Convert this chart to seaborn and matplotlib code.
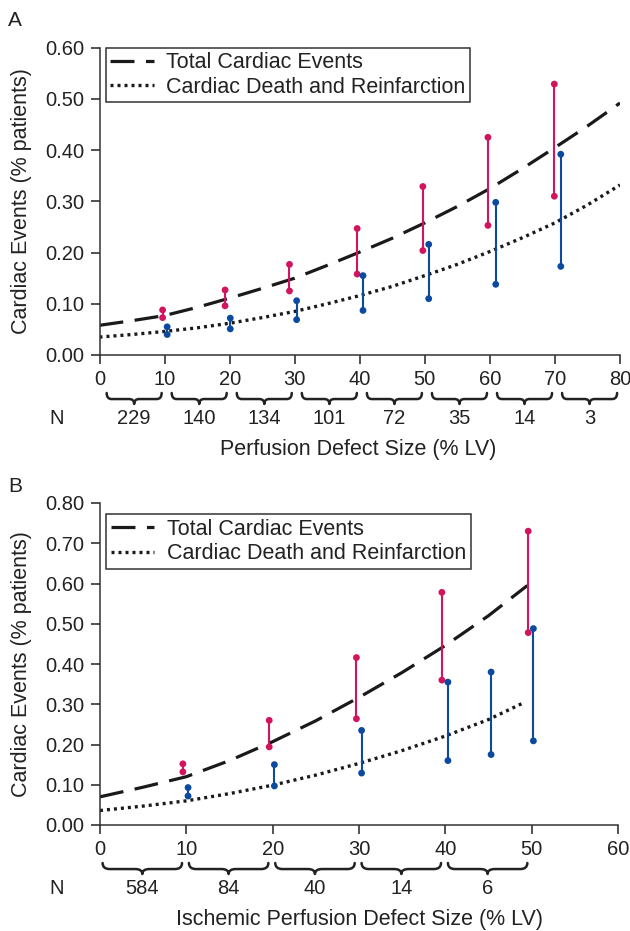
import matplotlib
matplotlib.use('Agg')
import matplotlib.pyplot as plt
from matplotlib.path import Path
from matplotlib.patches import PathPatch
import seaborn as sns
import pandas as pd
import numpy as np

# ---- panel A data ----
a_curve_x = [0, 5, 10, 15, 20, 25, 30, 35, 40, 45, 50, 55, 60, 65, 70, 75, 80]
a_total_curve = [0.058, 0.067, 0.077, 0.093, 0.111, 0.130, 0.150, 0.175, 0.201,
                 0.228, 0.258, 0.290, 0.325, 0.364, 0.405, 0.447, 0.492]
a_death_curve = [0.035, 0.040, 0.046, 0.053, 0.062, 0.073, 0.085, 0.100, 0.116,
                 0.134, 0.155, 0.177, 0.202, 0.229, 0.258, 0.293, 0.332]

a_total_x = [9.7, 19.3, 29.2, 39.6, 49.7, 59.7, 69.9]
a_total_lo = [0.073, 0.096, 0.125, 0.158, 0.204, 0.253, 0.310]
a_total_hi = [0.088, 0.127, 0.177, 0.247, 0.329, 0.425, 0.529]
a_death_x = [10.4, 20.1, 30.3, 40.5, 50.6, 60.9, 70.9]
a_death_lo = [0.040, 0.051, 0.069, 0.087, 0.110, 0.138, 0.173]
a_death_hi = [0.055, 0.072, 0.106, 0.155, 0.216, 0.298, 0.392]

a_bins = [0, 10, 20, 30, 40, 50, 60, 70, 80]
a_n = ['229', '140', '134', '101', '72', '35', '14', '3']

# ---- panel B data ----
b_curve_x = [0, 5, 10, 15, 20, 25, 30, 35, 40, 45, 49.5]
b_total_curve = [0.070, 0.094, 0.120, 0.160, 0.207, 0.259, 0.317, 0.379, 0.446, 0.520, 0.595]
b_death_x = [0, 5, 10, 15, 20, 25, 30, 35, 40, 45, 49]
b_death_curve = [0.036, 0.047, 0.060, 0.078, 0.099, 0.124, 0.153, 0.185, 0.221, 0.262, 0.303]

b_total_x = [9.6, 19.6, 29.7, 39.6, 49.6]
b_total_lo = [0.132, 0.194, 0.264, 0.360, 0.478]
b_total_hi = [0.152, 0.260, 0.416, 0.578, 0.730]
b_dpt_x = [10.2, 20.2, 30.3, 40.3, 45.3, 50.2]
b_dpt_lo = [0.072, 0.097, 0.129, 0.160, 0.175, 0.209]
b_dpt_hi = [0.093, 0.150, 0.235, 0.355, 0.380, 0.488]

b_bins = [0, 10, 20, 30, 40, 50]
b_n = ['584', '84', '40', '14', '6']

PINK = '#d2145f'
BLUE = '#0b4a9e'
INK = '#222222'
W, H = 630, 931

sns.set_style('ticks')
plt.rcParams['font.family'] = ['Liberation Sans', 'DejaVu Sans']
plt.rcParams['text.color'] = INK


def draw_brace(ax, x0, x1, top, h, ax_h):
    """curly brace under the x axis; top and h are pixels below the axis"""
    yt = -top / ax_h
    yb = -(top + h * 0.55) / ax_h
    ytip = -(top + h) / ax_h
    xm = (x0 + x1) / 2
    r = (x1 - x0) * 0.09
    verts = [(x0, yt), (x0, yb), (x0 + r, yb),
             (xm - r, yb), (xm, yb), (xm, ytip),
             (xm, yb), (xm + r, yb),
             (x1 - r, yb), (x1, yb), (x1, yt)]
    codes = [Path.MOVETO, Path.CURVE3, Path.CURVE3,
             Path.LINETO, Path.CURVE3, Path.CURVE3,
             Path.CURVE3, Path.CURVE3,
             Path.LINETO, Path.CURVE3, Path.CURVE3]
    patch = PathPatch(Path(verts, codes), fill=False, lw=1.8, color=INK,
                      capstyle='round', joinstyle='round',
                      transform=ax.get_xaxis_transform(), clip_on=False)
    ax.add_patch(patch)


def panel(ax, ax_h, tot_df, dth_df, tx, tlo, thi, dx, dlo, dhi,
          bins, nlab, inset, xmax, ymax, legend_y):
    sns.lineplot(data=tot_df, x='x', y='y', ax=ax, color='#1a1a1a', lw=2.3,
                 label='Total Cardiac Events')
    sns.lineplot(data=dth_df, x='x', y='y', ax=ax, color='#1a1a1a', lw=2.4,
                 label='Cardiac Death and Reinfarction')
    ax.lines[0].set_dashes([7.5, 3.6])
    ax.lines[1].set_dashes([0.9, 1.2])

    ax.vlines(tx, tlo, thi, color=PINK, lw=1.5, zorder=3)
    ax.vlines(dx, dlo, dhi, color=BLUE, lw=1.5, zorder=3)
    sns.scatterplot(x=tx + tx, y=tlo + thi, ax=ax, color=PINK, s=24,
                    edgecolor='none', zorder=4)
    sns.scatterplot(x=dx + dx, y=dlo + dhi, ax=ax, color=BLUE, s=24,
                    edgecolor='none', zorder=4)

    yt = np.arange(0, ymax + 0.001, 0.1)
    ax.set_xlim(0, xmax)
    ax.set_ylim(0, ymax)
    ax.set_xticks(np.arange(0, xmax + 1, 10))
    ax.set_yticks(yt)
    ax.set_yticklabels([f'{v:.2f}' for v in yt])
    ax.tick_params(labelsize=14.5, length=6.5, width=1.1, pad=4.5, colors=INK)
    for s in ['left', 'bottom']:
        ax.spines[s].set_linewidth(1.1)
        ax.spines[s].set_color('#333333')
    sns.despine(ax=ax)
    ax.set_xlabel('')
    ax.set_ylabel('')

    leg = ax.legend(loc='upper left', bbox_to_anchor=(0.012, legend_y),
                    fontsize=15.5, frameon=True, fancybox=False, framealpha=1,
                    edgecolor='#333333', handlelength=2.0, handletextpad=0.6,
                    borderpad=0.22, labelspacing=0.15, borderaxespad=0)
    leg.get_frame().set_linewidth(1.1)

    # braces and group sizes
    for lo, hi, lab in zip(bins[:-1], bins[1:], nlab):
        draw_brace(ax, lo + inset[0], hi - inset[1], 38, 11, ax_h)
        ax.text((lo + inset[0] + hi - inset[1]) / 2, -64 / ax_h, lab,
                ha='center', va='center', fontsize=14.5,
                transform=ax.get_xaxis_transform())


fig = plt.figure(figsize=(W / 100, H / 100), dpi=100)

a_box = [99.5, 47.7, 620, 355]
b_box = [100, 503, 618, 825]
axA = fig.add_axes([a_box[0] / W, 1 - a_box[3] / H, (a_box[2] - a_box[0]) / W,
                    (a_box[3] - a_box[1]) / H])
axB = fig.add_axes([b_box[0] / W, 1 - b_box[3] / H, (b_box[2] - b_box[0]) / W,
                    (b_box[3] - b_box[1]) / H])

panel(axA, a_box[3] - a_box[1],
      pd.DataFrame({'x': a_curve_x, 'y': a_total_curve}),
      pd.DataFrame({'x': a_curve_x, 'y': a_death_curve}),
      a_total_x, a_total_lo, a_total_hi, a_death_x, a_death_lo, a_death_hi,
      a_bins, a_n, (1.1, 0.45), 80, 0.6, 1.0)
panel(axB, b_box[3] - b_box[1],
      pd.DataFrame({'x': b_curve_x, 'y': b_total_curve}),
      pd.DataFrame({'x': b_death_x, 'y': b_death_curve}),
      b_total_x, b_total_lo, b_total_hi, b_dpt_x, b_dpt_lo, b_dpt_hi,
      b_bins, b_n, (0.3, 0.5), 60, 0.8, 0.965)

# panel letters, y labels, N and x labels
fig.text(8 / W, 1 - 20 / H, 'A', fontsize=15, va='center')
fig.text(8 / W, 1 - 486 / H, 'B', fontsize=15, va='center')
for yc in [201, 664]:
    fig.text(22 / W, 1 - yc / H, 'Cardiac Events (% patients)', rotation=90,
             fontsize=15.5, ha='center', va='center')
fig.text(57 / W, 1 - 419 / H, 'N', fontsize=14.5, ha='center', va='center')
fig.text(57 / W, 1 - 889 / H, 'N', fontsize=14.5, ha='center', va='center')
fig.text(358 / W, 1 - 449 / H, 'Perfusion Defect Size (% LV)', fontsize=15.5,
         ha='center', va='center')
fig.text(359 / W, 1 - 919 / H, 'Ischemic Perfusion Defect Size (% LV)',
         fontsize=15.5, ha='center', va='center')

fig.savefig('out.png', dpi=100)
plt.close(fig)
